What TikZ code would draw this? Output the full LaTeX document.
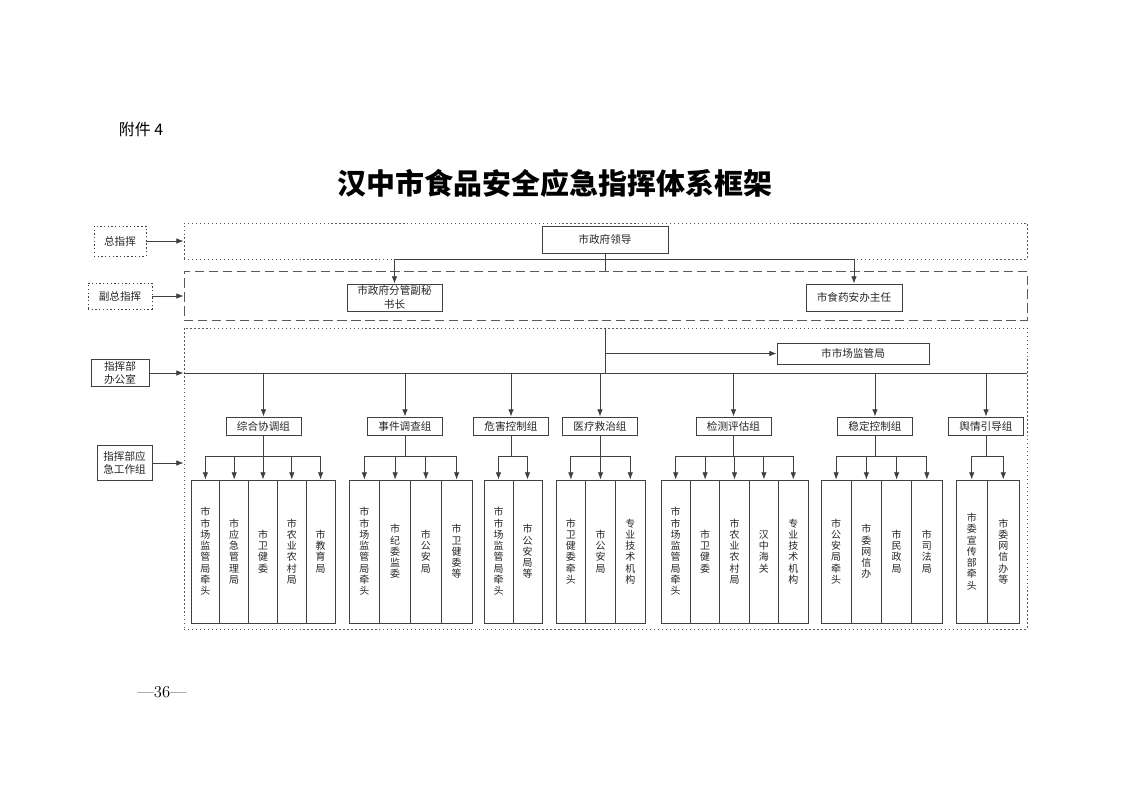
\documentclass[tikz,border=0pt]{standalone}
\usepackage{fontspec}
\newfontfamily\cjk{Noto Sans CJK SC}
\usetikzlibrary{arrows.meta,fit}
\newlength\upx
\setlength\upx{0.02647cm}
\XeTeXlinebreaklocale "zh"
\XeTeXlinebreakskip=0pt plus 1pt

\tikzset{
  line/.style={draw=black!75, line width=0.65pt},
  arr/.style={line, -{Latex[length=5.5pt,width=4.2pt]}},
  box/.style={line, fill=white, inner sep=0pt, text=black!85, align=center,
    font=\cjk\fontsize{8}{10}\selectfont},
  lbl/.style={box, dash pattern=on 1pt off 1.8pt},
  frame/.style={draw=black!65, line width=0.6pt, inner sep=0pt},
  gbox/.style={box, minimum width=75\upx, minimum height=18\upx},
  col/.style={box, text width=9pt, minimum height=143\upx,
    font=\cjk\fontsize{7.5}{8.5}\selectfont},
}

\begin{document}
\begin{tikzpicture}[x=0.02647cm, y=-0.02647cm]
    \useasboundingbox (0,0) rectangle (1122,793);

    % page texts
    \node[font=\cjk\fontsize{12}{14}\selectfont] (att) at (141,129) {附件 4};
    \node[font=\cjk\bfseries\fontsize{21.8}{24}\selectfont] (title) at (555,183) {汉中市食品安全应急指挥体系框架};
    \node[font=\fontsize{12.5}{14}\selectfont] (page) at (162,692) {\textemdash36\textemdash};

    % the three frames
    \node[frame, dash pattern=on 1pt off 2pt, fit={(184,223) (1027,259)}] (f1) {};
    \node[frame, dash pattern=on 7pt off 3.5pt, fit={(184,271) (1027,320)}] (f2) {};
    \node[frame, dash pattern=on 1pt off 2pt, fit={(184,328) (1027,629)}] (f3) {};

    % labels on the left
    \node[lbl, minimum width=52\upx, minimum height=30\upx] (zong) at (120,241) {总指挥};
    \node[lbl, minimum width=64\upx, minimum height=26\upx] (fu) at (120,296) {副总指挥};
    \node[box, minimum width=58\upx, minimum height=27\upx] (ban) at (120,373) {指挥部\\办公室};
    \node[box, minimum width=55\upx, minimum height=35\upx] (zu) at (124.5,463) {指挥部应\\急工作组};
    \foreach \n/\f in {zong/f1, fu/f2, ban/f3, zu/f3}
        \draw[arr] (\n) -- (\n -| \f.west);

    % leaders
    \node[box, minimum width=126\upx, minimum height=27\upx] (lead) at (605,239.5) {市政府领导};
    \node[box, minimum width=95\upx, minimum height=27\upx] (fgm) at (394.5,297.5) {市政府分管副秘\\书长};
    \node[box, minimum width=96\upx, minimum height=27\upx] (sya) at (854,297.5) {市食药安办主任};
    \draw[line] (lead.south) -- (lead |- f2.north);
    \draw[arr] (lead |- f1.south) -| (fgm.north);
    \draw[arr] (lead |- f1.south) -| (sya.north);

    % office and main line
    \node[box, minimum width=152\upx, minimum height=21\upx] (jg) at (853,353.5) {市市场监管局};
    \coordinate (bus) at (184,373);
    \draw[line] (bus) -- (bus -| f3.east);
    \draw[line] (lead |- f3.north) -- (lead |- bus);
    \draw[arr] (lead |- jg) -- (jg);

    % working groups
    \foreach \g/\x/\t in {g1/263.5/综合协调组, g2/405/事件调查组, g3/511/危害控制组,
        g4/600/医疗救治组, g5/733.5/检测评估组, g6/875/稳定控制组, g7/986/舆情引导组} {
        \node[gbox] (\g) at (\x,426) {\t};
        \draw[arr] (\g |- bus) -- (\g.north);
    }

    % member columns of each group
    \foreach \g/\s/\w/\list in {
        g1/191/28.8/{市市场监管局牵头,市应急管理局,市卫健委,市农业农村局,市教育局},
        g2/349/30.75/{市市场监管局牵头,市纪委监委,市公安局,市卫健委等},
        g3/484/29/{市市场监管局牵头,市公安局等},
        g4/556/29.7/{市卫健委牵头,市公安局,专业技术机构},
        g5/661/29.4/{市市场监管局牵头,市卫健委,市农业农村局,汉中海关,专业技术机构},
        g6/821/30.25/{市公安局牵头,市委网信办,市民政局,市司法局},
        g7/956/31.5/{市委宣传部牵头,市委网信办等}} {
        \draw[line] (\g.south) -- (\g |- 0,456);
        \foreach [count=\i] \t in \list {
            \node[col, minimum width=\w\upx] (\g-\i) at ({\s+(\i-0.5)*\w},551.5) {\t};
            \draw[arr] (\g |- 0,456) -| (\g-\i.north);
        }
    }
\end{tikzpicture}
\end{document}
